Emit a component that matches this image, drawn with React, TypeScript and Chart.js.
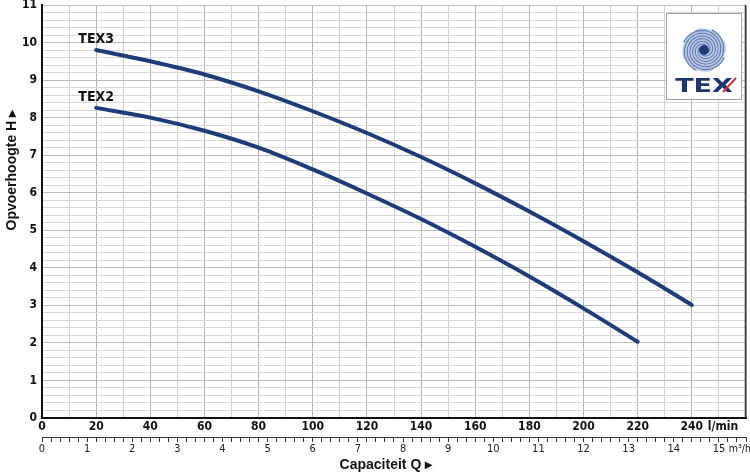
import { useEffect, useRef } from 'react';
import { Chart, registerables } from 'chart.js';

Chart.register(...registerables);

// ---- data ----
const tex3Flow = [20, 40, 60, 80, 100, 120, 140, 160, 180, 200, 220, 240];
const tex3Head = [9.8, 9.5, 9.15, 8.7, 8.17, 7.59, 6.95, 6.25, 5.5, 4.71, 3.88, 3.01];
const tex2Flow = [20, 40, 60, 80, 100, 120, 140, 160, 180, 200, 220];
const tex2Head = [8.26, 8.0, 7.65, 7.2, 6.62, 5.98, 5.3, 4.56, 3.77, 2.92, 2.03];
const seriesNames = ['TEX3', 'TEX2'];
const flowTickLabels = [0, 20, 40, 60, 80, 100, 120, 140, 160, 180, 200, 220, 240];
const headTickLabels = [0, 1, 2, 3, 4, 5, 6, 7, 8, 9, 10, 11];
const m3hTickLabels = [0, 1, 2, 3, 4, 5, 6, 7, 8, 9, 10, 11, 12, 13, 14, 15];
const flowUnit = 'l/min';
const m3hUnit = 'm³/h';
const xTitle = 'Capaciteit Q ▸';
const yTitle = 'Opvoerhoogte H ▸';
const X_MAX = 260;
const Y_MAX = 11;

const NARROW = "'Liberation Sans Narrow', 'DejaVu Sans Condensed', sans-serif";
const SANS = "'Liberation Sans', Arial, sans-serif";
const LINE_COLOR = '#1f3c7a';

const near = (v: number, list: number[]) => list.some((t) => Math.abs(t - v) < 1e-6);

const extrasPlugin = {
  id: 'extras',
  afterDraw(chart: any) {
    const ctx = chart.ctx as CanvasRenderingContext2D;
    const xs = chart.scales.x;
    const ys = chart.scales.y;
    const x2 = chart.scales.x2;
    const area = chart.chartArea;
    ctx.save();

    // right frame line
    ctx.strokeStyle = '#333';
    ctx.lineWidth = 1.5;
    ctx.beginPath();
    ctx.moveTo(area.right - 0.5, area.top);
    ctx.lineTo(area.right - 0.5, area.bottom);
    ctx.stroke();

    // series labels
    ctx.fillStyle = '#111';
    ctx.font = `bold 14px ${NARROW}`;
    ctx.textAlign = 'center';
    ctx.textBaseline = 'alphabetic';
    const firsts = [
      [tex3Flow[0], tex3Head[0]],
      [tex2Flow[0], tex2Head[0]],
    ];
    firsts.forEach((p, i) => {
      const px = xs.getPixelForValue(p[0]);
      const py = ys.getPixelForValue(p[1]);
      ctx.fillText(seriesNames[i], px, py - 7);
    });

    // unit labels
    ctx.font = `bold 12px ${NARROW}`;
    ctx.textAlign = 'center';
    ctx.textBaseline = 'top';
    ctx.fillText(flowUnit, xs.getPixelForValue(251.5), area.bottom + 3);
    ctx.font = `10.5px ${NARROW}`;
    ctx.textAlign = 'left';
    ctx.fillText(m3hUnit, x2.getPixelForValue(15.22), x2.top + 7);

    // axis titles
    ctx.fillStyle = '#111';
    ctx.font = `bold 14px ${SANS}`;
    ctx.textAlign = 'center';
    ctx.textBaseline = 'middle';
    ctx.fillText(xTitle, xs.getPixelForValue(127), 465);
    ctx.save();
    ctx.translate(12, ys.getPixelForValue(6.6));
    ctx.rotate(-Math.PI / 2);
    ctx.fillText(yTitle, 0, 0);
    ctx.restore();

    // logo
    const bx = area.right - 80;
    const by = area.top + 8;
    const bw = 76;
    const bh = 87;
    ctx.fillStyle = '#ffffff';
    ctx.fillRect(bx, by, bw, bh);
    ctx.strokeStyle = '#a0a0a0';
    ctx.lineWidth = 1;
    ctx.strokeRect(bx + 0.5, by + 0.5, bw - 1, bh - 1);
    const cx = bx + 38;
    const cy = by + 37;
    const arms = 8;
    for (let a = 0; a < arms; a++) {
      ctx.beginPath();
      for (let t = 0; t <= Math.PI * 3.4; t += 0.08) {
        const r = 3 + t * 1.75;
        const ang = -t + (a * 2 * Math.PI) / arms;
        const px = cx + r * Math.cos(ang);
        const py = cy + r * Math.sin(ang);
        if (t === 0) ctx.moveTo(px, py);
        else ctx.lineTo(px, py);
      }
      ctx.strokeStyle = a % 2 === 0 ? 'rgba(40,70,150,0.7)' : 'rgba(130,160,215,0.55)';
      ctx.lineWidth = 1.4;
      ctx.stroke();
    }
    ctx.beginPath();
    ctx.arc(cx, cy, 5, 0, Math.PI * 2);
    ctx.fillStyle = '#1f3c7a';
    ctx.fill();

    ctx.save();
    ctx.translate(bx + 38, by + 79);
    ctx.scale(1.35, 1);
    ctx.font = `bold 20px 'DejaVu Sans', sans-serif`;
    ctx.textAlign = 'center';
    ctx.textBaseline = 'alphabetic';
    ctx.fillStyle = '#1f3572';
    ctx.fillText('TEX', 0, 0);
    ctx.restore();
    ctx.strokeStyle = '#d32f2f';
    ctx.lineWidth = 2;
    ctx.beginPath();
    ctx.moveTo(bx + 57, by + 79);
    ctx.lineTo(bx + 70, by + 65);
    ctx.stroke();

    ctx.restore();
  },
};

export default function App() {
  const ref = useRef<HTMLCanvasElement | null>(null);

  useEffect(() => {
    document.body.style.margin = '0';
    const canvas = ref.current;
    if (!canvas) return;
    const chart = new Chart(canvas, {
      type: 'line',
      data: {
        datasets: [
          {
            label: seriesNames[0],
            data: tex3Flow.map((q, i) => ({ x: q, y: tex3Head[i] })),
            borderColor: LINE_COLOR,
            borderWidth: 4,
            pointRadius: 0,
            cubicInterpolationMode: 'monotone',
            borderCapStyle: 'round',
            xAxisID: 'x',
          },
          {
            label: seriesNames[1],
            data: tex2Flow.map((q, i) => ({ x: q, y: tex2Head[i] })),
            borderColor: LINE_COLOR,
            borderWidth: 4,
            pointRadius: 0,
            cubicInterpolationMode: 'monotone',
            borderCapStyle: 'round',
            xAxisID: 'x',
          },
        ],
      },
      options: {
        responsive: false,
        animation: false,
        layout: { padding: { top: 5, right: 4, left: 0, bottom: 0 } },
        plugins: { legend: { display: false }, tooltip: { enabled: false } },
        scales: {
          x: {
            type: 'linear',
            position: 'bottom',
            weight: 0,
            min: 0,
            max: X_MAX,
            afterFit: (s: any) => {
              s.height = 19;
              s.paddingLeft = 0;
              s.paddingRight = 0;
            },
            ticks: {
              stepSize: 10,
              autoSkip: false,
              maxRotation: 0,
              padding: 2,
              color: '#111',
              font: { family: NARROW, size: 12, weight: 'bold' },
              callback: (v: any) => (near(Number(v), flowTickLabels) ? String(v) : ''),
            },
            grid: {
              drawTicks: false,
              color: (c: any) => (c.tick && Math.round(c.tick.value) % 20 === 0 ? '#b4b4b4' : '#cfcfcf'),
              lineWidth: 1,
            },
            border: { display: true, color: '#111', width: 2 },
          },
          x2: {
            type: 'linear',
            position: 'bottom',
            weight: 1,
            min: 0,
            max: (X_MAX * 60) / 1000,
            afterFit: (s: any) => {
              s.height = 37;
              s.paddingLeft = 0;
              s.paddingRight = 0;
            },
            ticks: {
              stepSize: 0.2,
              autoSkip: false,
              maxRotation: 0,
              padding: 1,
              color: '#222',
              font: { family: NARROW, size: 11 },
              callback: (v: any) => (near(Number(v), m3hTickLabels) ? String(Math.round(Number(v))) : ''),
            },
            grid: { drawOnChartArea: false, drawTicks: true, tickLength: 5, color: '#333' },
            border: { display: true, color: '#333', width: 1 },
          },
          y: {
            type: 'linear',
            min: 0,
            max: Y_MAX,
            afterFit: (s: any) => {
              s.width = 42;
              s.paddingTop = 0;
              s.paddingBottom = 0;
            },
            ticks: {
              stepSize: 0.2,
              autoSkip: false,
              padding: 5,
              color: '#111',
              font: { family: NARROW, size: 12, weight: 'bold' },
              callback: (v: any) => (near(Number(v), headTickLabels) ? String(Math.round(Number(v))) : ''),
            },
            grid: {
              drawTicks: false,
              color: (c: any) =>
                c.tick && Math.abs(c.tick.value - Math.round(c.tick.value)) < 1e-6 ? '#bdbdbd' : '#d8d8d8',
              lineWidth: 1,
            },
            border: { display: true, color: '#111', width: 2 },
          },
        },
      } as any,
      plugins: [extrasPlugin],
    });
    return () => chart.destroy();
  }, []);

  return (
    <div style={{ width: 750, height: 474 }}>
      <canvas ref={ref} width={750} height={474} style={{ display: 'block' }} />
    </div>
  );
}
